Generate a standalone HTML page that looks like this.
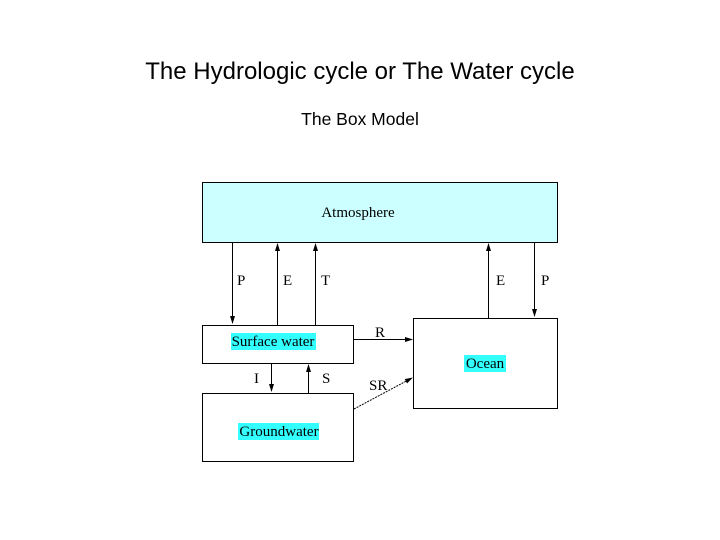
<!DOCTYPE html>
<html><head><style>
body{margin:0;width:720px;height:540px;background:#fff;overflow:hidden;position:relative;font-family:"Liberation Sans",sans-serif}
.t{position:absolute;left:0;width:720px;text-align:center;color:#000}
</style></head><body>
<div class="t" style="top:58px;font-size:24px">The Hydrologic cycle or The Water cycle</div>
<div class="t" style="top:109px;font-size:17.5px">The Box Model</div>
<svg width="720" height="540" style="position:absolute;left:0;top:0" font-family="Liberation Serif, serif" font-size="15">
<defs><marker id="a" markerWidth="8" markerHeight="8" refX="7" refY="4" orient="auto" markerUnits="userSpaceOnUse"><path d="M0,1.5 L8,4 L0,6.5z" fill="#000"/></marker></defs>
<rect x="202.5" y="182.5" width="355" height="60" fill="#ccffff" stroke="#000"/>
<rect x="202.5" y="325.5" width="151" height="38" fill="#fff" stroke="#000"/>
<rect x="202.5" y="393.5" width="151" height="68" fill="#fff" stroke="#000"/>
<rect x="413.5" y="318.5" width="144" height="90" fill="#fff" stroke="#000"/>
<g stroke="#000" stroke-width="1" marker-end="url(#a)">
<line x1="232.5" y1="243" x2="232.5" y2="323"/>
<line x1="277.5" y1="325" x2="277.5" y2="244"/>
<line x1="315.5" y1="325" x2="315.5" y2="244"/>
<line x1="488.5" y1="318" x2="488.5" y2="244"/>
<line x1="534.5" y1="243" x2="534.5" y2="316"/>
<line x1="354" y1="339.5" x2="412" y2="339.5"/>
<line x1="271.5" y1="364" x2="271.5" y2="391"/>
<line x1="308.5" y1="393" x2="308.5" y2="365"/>
<line x1="354" y1="409" x2="412" y2="378" stroke-dasharray="2,1"/>
</g>
<rect x="231" y="333" width="85" height="17" fill="#33ffff"/>
<rect x="238" y="423" width="81" height="17" fill="#33ffff"/>
<rect x="464" y="355" width="42" height="17" fill="#33ffff"/>
<text x="358" y="217" text-anchor="middle">Atmosphere</text>
<text x="273" y="346" text-anchor="middle">Surface water</text>
<text x="279" y="436" text-anchor="middle">Groundwater</text>
<text x="485" y="368" text-anchor="middle">Ocean</text>
<text x="237" y="285">P</text><text x="283" y="285">E</text><text x="321" y="285">T</text>
<text x="496" y="285">E</text><text x="541" y="285">P</text>
<text x="375" y="337">R</text><text x="254" y="383">I</text><text x="322" y="383">S</text>
<text x="369" y="390">SR</text>
</svg>
</body></html>
